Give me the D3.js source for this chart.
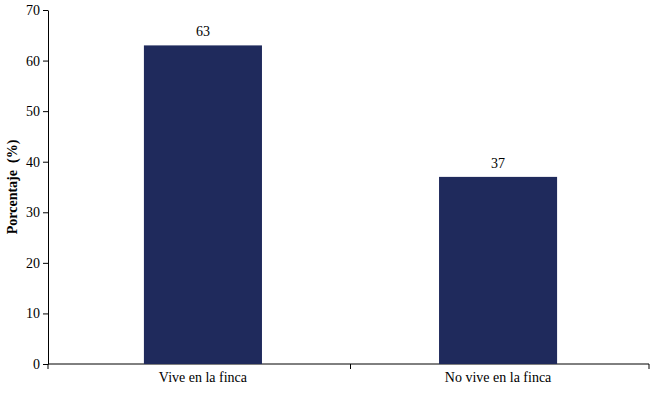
<!DOCTYPE html>
<html>
<head>
<meta charset="utf-8">
<script src="https://d3js.org/d3.v7.min.js"></script>
<style>
  body { margin: 0; background: #fff; }
  text { font-family: "Liberation Serif", "Times New Roman", serif; fill: #000; }
</style>
</head>
<body>
<div id="chart"></div>
<script>
var categories = ["Vive en la finca", "No vive en la finca"];
var values = [63, 37];
var yTicks = [0, 10, 20, 30, 40, 50, 60, 70];

var w = 650, h = 400;
var margin = {left: 48, right: 8, top: 10, bottom: 36};

var svg = d3.select("#chart").append("svg")
    .attr("width", w).attr("height", h);

var x = d3.scaleBand().domain(categories)
    .range([margin.left, 653]).paddingInner(0.6).paddingOuter(0.325);
var y = d3.scaleLinear().domain([0, 70]).range([h - margin.bottom, margin.top]);

var gy = svg.append("g").attr("transform", "translate(" + margin.left + ",0)")
    .call(d3.axisLeft(y).tickValues(yTicks).tickSize(5).tickSizeOuter(0));
gy.selectAll("text").style("font-size", "14px").style("font-family", "Liberation Serif");

var gx = svg.append("g").attr("transform", "translate(0," + (h - margin.bottom) + ")")
    .call(d3.axisBottom(x).tickSize(0).tickSizeOuter(0));
gx.select(".domain").attr("d", "M" + margin.left + ",0H" + (w - 1));
gx.selectAll("text").attr("dy", "1.1em").style("font-size", "14px").style("font-family", "Liberation Serif");
[margin.left, (x(categories[0]) + x.bandwidth() + x(categories[1])) / 2, w - 1].forEach(function(px) {
  gx.append("line").attr("x1", px).attr("x2", px).attr("y1", 0).attr("y2", 5).attr("stroke", "#000");
});
svg.selectAll(".domain, .tick line").attr("stroke", "#000");

svg.selectAll(".bar").data(values).enter().append("rect")
    .attr("class", "bar")
    .attr("x", function(d, i) { return x(categories[i]); })
    .attr("width", x.bandwidth())
    .attr("y", function(d) { return y(d); })
    .attr("height", function(d) { return y(0) - y(d); })
    .attr("fill", "#1f2a5c");

svg.selectAll(".lbl").data(values).enter().append("text")
    .attr("x", function(d, i) { return x(categories[i]) + x.bandwidth() / 2; })
    .attr("y", function(d) { return y(d) - 9; })
    .attr("text-anchor", "middle").style("font-size", "14px")
    .text(function(d) { return d; });

svg.append("text")
    .attr("transform", "translate(17," + ((margin.top + h - margin.bottom) / 2) + ") rotate(-90)")
    .attr("text-anchor", "middle").style("font-size", "14px").style("font-weight", "bold")
    .style("white-space", "pre")
    .text("Porcentaje  (%)");
</script>
</body>
</html>
